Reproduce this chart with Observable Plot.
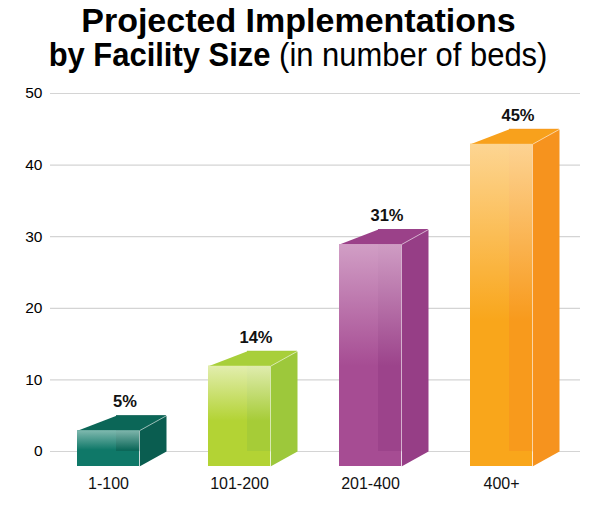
<!DOCTYPE html>
<html>
<head>
<meta charset="utf-8">
<script src="https://cdn.jsdelivr.net/npm/d3@7"></script>
<script src="https://cdn.jsdelivr.net/npm/@observablehq/plot@0.6"></script>
<style>
  html, body { margin: 0; padding: 0; background: #fff; }
  #wrap { width: 597px; height: 506px; position: relative; font-family: "Liberation Sans", Arial, sans-serif; }
  #title { height: 80px; text-align: center; color: #000; font-size: 34px; line-height: 34px; padding-top: 3px; box-sizing: border-box; }
  #title b { font-weight: bold; }
  #title .l2 { display: inline-block; transform: scaleX(0.91); transform-origin: 50% 50%; white-space: nowrap; }
  #title .light { font-weight: normal; }
</style>
</head>
<body>
<div id="wrap">
  <div id="title"><b>Projected Implementations</b><br><span class="l2"><b>by Facility Size</b><span class="light"> (in number of beds)</span></span></div>
  <div id="chart"></div>
</div>
<script>
const categories = ["1-100", "101-200", "201-400", "400+"];
const values = [5, 14, 31, 45];
const valueLabels = ["5%", "14%", "31%", "45%"];
const frontColors = ["#0f7868", "#b3d334", "#a64c93", "#f9a61b"];
const sideColors = ["#0a5d50", "#9dc83b", "#963e86", "#f6931e"];
const topColors = ["#0b6657", "#a8cf3a", "#9b4189", "#f8a11c"];
const lightColors = ["#9cc9c1", "#eef4cc", "#dcb3d2", "#fee1b0"];
const yTicks = [0, 10, 20, 30, 40, 50];

const W = 597, H = 426;
const marginLeft = 50, marginRight = 17, marginTop = 13, marginBottom = 55;
const xRange = [108, 501];
const xDomain = [0, categories.length - 1];
const yDomain = [0, 50];
// pixel -> data unit conversions (derived from scale config)
const kx = (xDomain[1] - xDomain[0]) / (xRange[1] - xRange[0]);
const ky = (yDomain[1] - yDomain[0]) / ((H - marginBottom) - marginTop);
// box geometry in pixels
const fL = -31, fR = 31, bL = 8, bR = 58, drop = 15;

const bars = categories.map((c, i) => ({i, c, v: values[i], label: valueLabels[i]}));
const px = (i, p) => i + p * kx;
const py = (v, p) => v - p * ky;

const backs = bars.map(d => ({x1: px(d.i, bL), x2: px(d.i, bR), y1: 0, y2: d.v, fill: sideColors[d.i]}));
const fronts = bars.map(d => ({x1: px(d.i, fL), x2: px(d.i, fR), y1: py(0, drop), y2: py(d.v, drop), fill: frontColors[d.i], grad: `url(#grad${d.i})`}));
const overlaps = bars.map(d => ({x1: px(d.i, bL), x2: px(d.i, fR), y1: 0, y2: py(d.v, drop), fill: sideColors[d.i]}));
const polys = [];
bars.forEach(d => {
  const top = [[fL, py(d.v, drop)], [bL, d.v], [bR, d.v], [fR, py(d.v, drop)]];
  top.forEach(([p, y]) => polys.push({id: "t" + d.i, x: px(d.i, p), y, fill: topColors[d.i]}));
  const side = [[fR, py(d.v, drop)], [bR, d.v], [bR, 0], [fR, py(0, drop)]];
  side.forEach(([p, y]) => polys.push({id: "s" + d.i, x: px(d.i, p), y, fill: sideColors[d.i]}));
});
const edges = [];
bars.forEach(d => {
  [[fR, py(0, drop)], [fR, py(d.v, drop)], [bR, d.v]].forEach(([p, y]) => edges.push({id: "e" + d.i, x: px(d.i, p), y}));
});

const plot = Plot.plot({
  width: W, height: H,
  marginLeft, marginRight, marginTop, marginBottom,
  style: {fontFamily: "Liberation Sans, Arial, sans-serif", fontSize: "15.5px", color: "#000", background: "transparent"},
  x: {domain: xDomain, range: xRange, axis: null},
  y: {domain: yDomain, ticks: yTicks, tickSize: 0, tickPadding: 8, label: null},
  color: {type: "identity"},
  marks: [
    Plot.gridY(yTicks, {stroke: "#d4d4d4", strokeOpacity: 1, strokeWidth: 1.2}),
    Plot.rect(backs, {x1: "x1", x2: "x2", y1: "y1", y2: "y2", fill: "fill"}),
    Plot.line(polys, {x: "x", y: "y", z: "id", fill: "fill", stroke: null, curve: "linear-closed"}),
    Plot.rect(fronts, {x1: "x1", x2: "x2", y1: "y1", y2: "y2", fill: "fill"}),
    Plot.rect(overlaps, {x1: "x1", x2: "x2", y1: "y1", y2: "y2", fill: "fill", fillOpacity: 0.6}),
    Plot.rect(fronts, {x1: "x1", x2: "x2", y1: "y1", y2: "y2", fill: "grad"}),
    Plot.line(edges, {x: "x", y: "y", z: "id", stroke: "#ffffff", strokeOpacity: 0.6, strokeWidth: 1}),
    Plot.text(bars, {x: d => px(d.i, 16.5), y: "v", text: "label", dy: -14, fontWeight: "bold", fontSize: 16.5, fill: "#111"}),
    Plot.text(bars, {x: "i", y: 0, text: "c", dy: 32, fontSize: 16, fill: "#111"})
  ]
});

// gradients for the glossy front faces
const ns = "http://www.w3.org/2000/svg";
const defs = document.createElementNS(ns, "defs");
bars.forEach(d => {
  const g = document.createElementNS(ns, "linearGradient");
  g.setAttribute("id", "grad" + d.i);
  g.setAttribute("x1", "0"); g.setAttribute("y1", "0");
  g.setAttribute("x2", "0"); g.setAttribute("y2", "1");
  [["0", 0.8], ["0.55", 0]].forEach(([o, a]) => {
    const s = document.createElementNS(ns, "stop");
    s.setAttribute("offset", o);
    s.setAttribute("stop-color", lightColors[d.i]);
    s.setAttribute("stop-opacity", a);
    g.appendChild(s);
  });
  defs.appendChild(g);
});
plot.insertBefore(defs, plot.firstChild);
document.getElementById("chart").appendChild(plot);
</script>
</body>
</html>
